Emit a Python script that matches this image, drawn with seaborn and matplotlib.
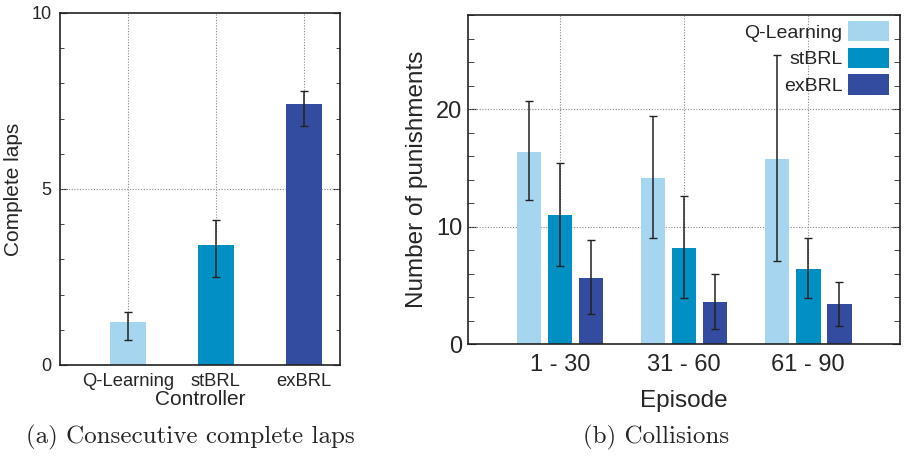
import numpy as np
import pandas as pd
import matplotlib
matplotlib.use("Agg")
import matplotlib.pyplot as plt
from matplotlib.ticker import MultipleLocator
import seaborn as sns

# ---- data ----
controllers = ["Q-Learning", "stBRL", "exBRL"]
laps_mean = [1.21, 3.41, 7.41]
laps_low = [0.70, 2.51, 6.79]
laps_high = [1.50, 4.12, 7.78]

episodes = ["1 - 30", "31 - 60", "61 - 90"]
q_mean = [16.36, 14.15, 15.77]
q_low = [12.22, 9.06, 7.07]
q_high = [20.65, 19.38, 24.63]
st_mean = [10.97, 8.18, 6.39]
st_low = [6.68, 3.89, 3.89]
st_high = [15.40, 12.56, 9.01]
ex_mean = [5.60, 3.58, 3.38]
ex_low = [2.53, 1.31, 1.56]
ex_high = [8.81, 5.97, 5.28]

colors = ["#a6d6ef", "#0090c4", "#344c9f"]

sns.set_style("ticks")
plt.rcParams["font.family"] = ["Liberation Sans", "DejaVu Sans"]
plt.rcParams["axes.edgecolor"] = "#222222"
plt.rcParams["axes.linewidth"] = 1.2

fig = plt.figure(figsize=(9.09, 4.59), dpi=100)
ax1 = fig.add_axes([0.066, 0.2048, 0.308, 0.767])
ax2 = fig.add_axes([0.515, 0.2505, 0.475, 0.7168])

grid_kw = dict(color="#888888", linestyle=(0, (1, 1.5)), linewidth=0.8)

# ---- left panel ----
df1 = pd.DataFrame({"Controller": controllers, "Laps": laps_mean})
sns.barplot(data=df1, x="Controller", y="Laps", hue="Controller",
            palette=colors, saturation=1, width=0.41, legend=False, ax=ax1,
            zorder=2, linewidth=0)
ax1.set_xlim(-0.77, 2.41)
ax1.set_ylim(0, 10)
ax1.yaxis.set_major_locator(MultipleLocator(5))
ax1.yaxis.set_minor_locator(MultipleLocator(1))
for i in range(3):
    ax1.axvline(i, zorder=1, **grid_kw)
ax1.axhline(5, zorder=1, **grid_kw)
xs = []
for cont in ax1.containers:
    for p in cont:
        xs.append(p.get_x() + p.get_width() / 2)
xs = sorted(xs)
m = np.array(laps_mean)
ax1.errorbar(xs, m, yerr=[m - np.array(laps_low), np.array(laps_high) - m],
             fmt="none", ecolor="#222222", elinewidth=1.1, capsize=3,
             capthick=1.0, zorder=3)
ax1.tick_params(axis="y", which="both", direction="in", left=True, right=True,
                labelsize=13, pad=6)
ax1.tick_params(axis="y", which="major", length=5)
ax1.tick_params(axis="y", which="minor", length=3)
ax1.tick_params(axis="x", length=0, labelsize=13.2, pad=6)
ax1.set_xlabel("Controller", fontsize=15, labelpad=0)
ax1.set_ylabel("Complete laps", fontsize=15, labelpad=6)

# ---- right panel ----
df2 = pd.DataFrame({
    "Episode": episodes * 3,
    "Controller": np.repeat(controllers, 3),
    "Value": q_mean + st_mean + ex_mean,
})
sns.barplot(data=df2, x="Episode", y="Value", hue="Controller",
            hue_order=controllers, palette=colors, saturation=1, width=0.75,
            gap=0.2, ax=ax2, zorder=2, linewidth=0)
ax2.set_xlim(-0.74, 2.74)
ax2.set_ylim(0, 28)
ax2.yaxis.set_major_locator(MultipleLocator(10))
ax2.yaxis.set_minor_locator(MultipleLocator(2))
for i in range(3):
    ax2.axvline(i, zorder=1, **grid_kw)
for yv in (10, 20):
    ax2.axhline(yv, zorder=1, **grid_kw)
series = [(q_mean, q_low, q_high), (st_mean, st_low, st_high),
          (ex_mean, ex_low, ex_high)]
for cont, (mn, lo, hi) in zip(ax2.containers, series):
    bx = [p.get_x() + p.get_width() / 2 for p in cont]
    mn = np.array(mn)
    ax2.errorbar(bx, mn, yerr=[mn - np.array(lo), np.array(hi) - mn],
                 fmt="none", ecolor="#222222", elinewidth=1.1, capsize=3,
                 capthick=1.0, zorder=3)
ax2.tick_params(axis="y", which="both", direction="in", left=True, right=True,
                labelsize=17, pad=4)
ax2.tick_params(axis="y", which="major", length=6)
ax2.tick_params(axis="y", which="minor", length=4)
ax2.tick_params(axis="x", length=0, labelsize=17, pad=7)
ax2.set_xlabel("Episode", fontsize=17.5, labelpad=10)
ax2.set_ylabel("Number of punishments", fontsize=17.5, labelpad=6)
ax2.legend(loc="upper right", bbox_to_anchor=(0.975, 0.982), frameon=False,
           markerfirst=False, fontsize=14, handlelength=2.1,
           handleheight=1.25, labelspacing=0.3, handletextpad=0.3,
           borderpad=0, borderaxespad=0, title=None)

# ---- captions ----
fig.text(0.209, 0.048, "(a) Consecutive complete laps", ha="center",
         va="center", fontsize=18, family=["cmr10", "DejaVu Serif"])
fig.text(0.722, 0.048, "(b) Collisions", ha="center", va="center",
         fontsize=18, family=["cmr10", "DejaVu Serif"])

fig.savefig("out.png", dpi=100)
